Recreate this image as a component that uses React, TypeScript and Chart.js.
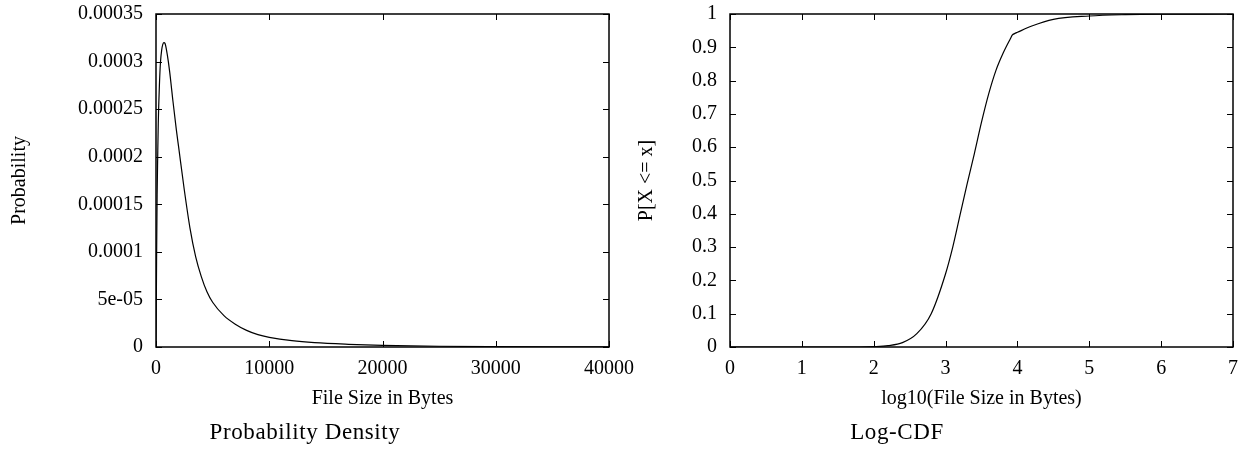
import React, { useEffect, useRef } from "react";
import { Chart, registerables } from "chart.js";

Chart.register(...registerables);

// ---- Data ----
// Left: probability density over file size (bytes)
const pdfSizes = [
  0, 25, 50, 100, 150, 200, 300, 400, 500, 600, 700, 800, 1000, 1200, 1500,
  1800, 2000, 2500, 3000, 3500, 4000, 4500, 5000, 6000, 7000, 8000, 9000,
  10000, 12000, 14000, 17000, 20000, 25000, 30000, 35000, 40000,
];
const pdfProb = [
  0, 0.00004, 0.00009, 0.00016, 0.0002, 0.000235, 0.000275, 0.0003, 0.000312,
  0.000318, 0.00032, 0.000319, 0.000307, 0.00029, 0.000258, 0.000228,
  0.000210, 0.000165, 0.000125, 0.000095, 0.000074, 0.000058, 0.000047,
  0.000033, 0.000024, 0.0000175, 0.000013, 0.0000102, 0.0000066, 0.0000045,
  0.0000028, 0.0000017, 0.0000008, 0.0000004, 0.0000002, 0.0000001,
];

// Right: CDF over log10(file size)
const cdfLogSizes = [
  0, 1, 1.8, 2.0, 2.2, 2.4, 2.6, 2.8, 3.0, 3.1, 3.2, 3.3, 3.4, 3.5, 3.6, 3.7,
  3.8, 3.9, 3.93, 3.96, 4.0, 4.2, 4.5, 5.0, 5.5, 6.0, 7.0,
];
const cdfProb = [
  0, 0, 0, 0.001, 0.004, 0.013, 0.04, 0.1, 0.22, 0.3, 0.395, 0.49, 0.58,
  0.675, 0.76, 0.83, 0.882, 0.925, 0.937, 0.941, 0.945, 0.964, 0.984, 0.994,
  0.998, 0.9995, 1.0,
];

// Tick values and labels
const pdfXTicks = [0, 10000, 20000, 30000, 40000];
const pdfXTickLabels = ["0", "10000", "20000", "30000", "40000"];
const pdfYTicks = [0, 0.00005, 0.0001, 0.00015, 0.0002, 0.00025, 0.0003, 0.00035];
const pdfYTickLabels = ["0", "5e-05", "0.0001", "0.00015", "0.0002", "0.00025", "0.0003", "0.00035"];
const cdfXTicks = [0, 1, 2, 3, 4, 5, 6, 7];
const cdfXTickLabels = ["0", "1", "2", "3", "4", "5", "6", "7"];
const cdfYTicks = [0, 0.1, 0.2, 0.3, 0.4, 0.5, 0.6, 0.7, 0.8, 0.9, 1];
const cdfYTickLabels = ["0", "0.1", "0.2", "0.3", "0.4", "0.5", "0.6", "0.7", "0.8", "0.9", "1"];

const FONT = "'Liberation Serif', 'Times New Roman', Times, serif";

const framePlugin = {
  id: "gnuframe",
  afterDraw(chart: any) {
    const { ctx, chartArea: a, scales } = chart;
    const L = 6;
    ctx.save();
    ctx.strokeStyle = "#000";
    ctx.lineWidth = 1;
    ctx.beginPath();
    for (const t of scales.x.ticks) {
      const px = Math.round(scales.x.getPixelForValue(t.value)) + 0.5;
      ctx.moveTo(px, a.bottom);
      ctx.lineTo(px, a.bottom - L);
      ctx.moveTo(px, a.top);
      ctx.lineTo(px, a.top + L);
    }
    for (const t of scales.y.ticks) {
      const py = Math.round(scales.y.getPixelForValue(t.value)) + 0.5;
      ctx.moveTo(a.left, py);
      ctx.lineTo(a.left + L, py);
      ctx.moveTo(a.right, py);
      ctx.lineTo(a.right - L, py);
    }
    ctx.stroke();
    ctx.lineWidth = 1.5;
    ctx.strokeRect(a.left, a.top, a.right - a.left, a.bottom - a.top);
    ctx.restore();
  },
};

type PlotProps = {
  left: number;
  width: number;
  height: number;
  xs: number[];
  ys: number[];
  xMin: number;
  xMax: number;
  yMin: number;
  yMax: number;
  xTicks: number[];
  xLabels: string[];
  yTicks: number[];
  yLabels: string[];
  xTitle: string;
  yTitle: string;
  padLeft: number;
  padRight: number;
  yWidth: number;
};

function Plot(p: PlotProps) {
  const ref = useRef<HTMLCanvasElement | null>(null);
  useEffect(() => {
    if (!ref.current) return;
    const tickFont = { family: FONT, size: 20 };
    const chart = new Chart(ref.current, {
      type: "line",
      data: {
        datasets: [
          {
            data: p.xs.map((x, i) => ({ x, y: p.ys[i] })),
            borderColor: "#000",
            borderWidth: 1.2,
            pointRadius: 0,
            fill: false,
            cubicInterpolationMode: "monotone",
          },
        ],
      },
      options: {
        responsive: false,
        animation: false,
        events: [],
        layout: { padding: { left: p.padLeft, right: p.padRight, top: 14, bottom: 0 } },
        plugins: { legend: { display: false }, tooltip: { enabled: false } },
        scales: {
          x: {
            type: "linear",
            min: p.xMin,
            max: p.xMax,
            afterBuildTicks: (s: any) => {
              s.ticks = p.xTicks.map((v) => ({ value: v }));
            },
            afterFit: (s: any) => {
              s.height = 73;
            },
            grid: {
              display: true,
              drawOnChartArea: false,
              drawTicks: true,
              tickLength: 10,
              color: "rgba(0,0,0,0)",
            },
            border: { display: false },
            ticks: {
              padding: 0,
              maxRotation: 0,
              autoSkip: false,
              color: "#000",
              font: tickFont,
              callback: (_v: any, i: number) => p.xLabels[i],
            },
            title: {
              display: true,
              text: p.xTitle,
              color: "#000",
              font: tickFont,
              padding: { top: 0, bottom: 9 },
            },
          },
          y: {
            type: "linear",
            min: p.yMin,
            max: p.yMax,
            afterBuildTicks: (s: any) => {
              s.ticks = p.yTicks.map((v) => ({ value: v }));
            },
            afterFit: (s: any) => {
              s.width = p.yWidth;
            },
            grid: {
              display: true,
              drawOnChartArea: false,
              drawTicks: true,
              tickLength: 13,
              color: "rgba(0,0,0,0)",
            },
            border: { display: false },
            ticks: {
              padding: 0,
              autoSkip: false,
              color: "#000",
              font: tickFont,
              callback: (_v: any, i: number) => p.yLabels[i],
            },
            title: {
              display: true,
              text: p.yTitle,
              color: "#000",
              font: tickFont,
              padding: { top: 0, bottom: 0 },
            },
          },
        },
      } as any,
      plugins: [framePlugin],
    });
    return () => chart.destroy();
  }, []);
  return (
    <canvas
      ref={ref}
      width={p.width}
      height={p.height}
      style={{ position: "absolute", left: p.left, top: 0, width: p.width, height: p.height }}
    />
  );
}

const captionStyle: React.CSSProperties = {
  position: "absolute",
  top: 418,
  height: 28,
  lineHeight: "28px",
  width: 400,
  textAlign: "center",
  fontFamily: FONT,
  fontSize: 23,
  letterSpacing: 0.6,
  color: "#000",
  whiteSpace: "nowrap",
};

export default function App() {
  return (
    <div
      style={{
        position: "absolute",
        left: 0,
        top: 0,
        width: 1239,
        height: 472,
        background: "#fff",
        overflow: "hidden",
      }}
    >
      <Plot
        left={0}
        width={640}
        height={420}
        xs={pdfSizes}
        ys={pdfProb}
        xMin={0}
        xMax={40000}
        yMin={0}
        yMax={0.00035}
        xTicks={pdfXTicks}
        xLabels={pdfXTickLabels}
        yTicks={pdfYTicks}
        yLabels={pdfYTickLabels}
        xTitle="File Size in Bytes"
        yTitle="Probability"
        padLeft={8}
        padRight={31}
        yWidth={148}
      />
      <Plot
        left={620}
        width={619}
        height={420}
        xs={cdfLogSizes}
        ys={cdfProb}
        xMin={0}
        xMax={7}
        yMin={0}
        yMax={1}
        xTicks={cdfXTicks}
        xLabels={cdfXTickLabels}
        yTicks={cdfYTicks}
        yLabels={cdfYTickLabels}
        xTitle="log10(File Size in Bytes)"
        yTitle="P[X <= x]"
        padLeft={15}
        padRight={6}
        yWidth={95}
      />
      <div style={{ ...captionStyle, left: 305 - 200 }}>Probability Density</div>
      <div style={{ ...captionStyle, left: 897 - 200 }}>Log-CDF</div>
    </div>
  );
}
